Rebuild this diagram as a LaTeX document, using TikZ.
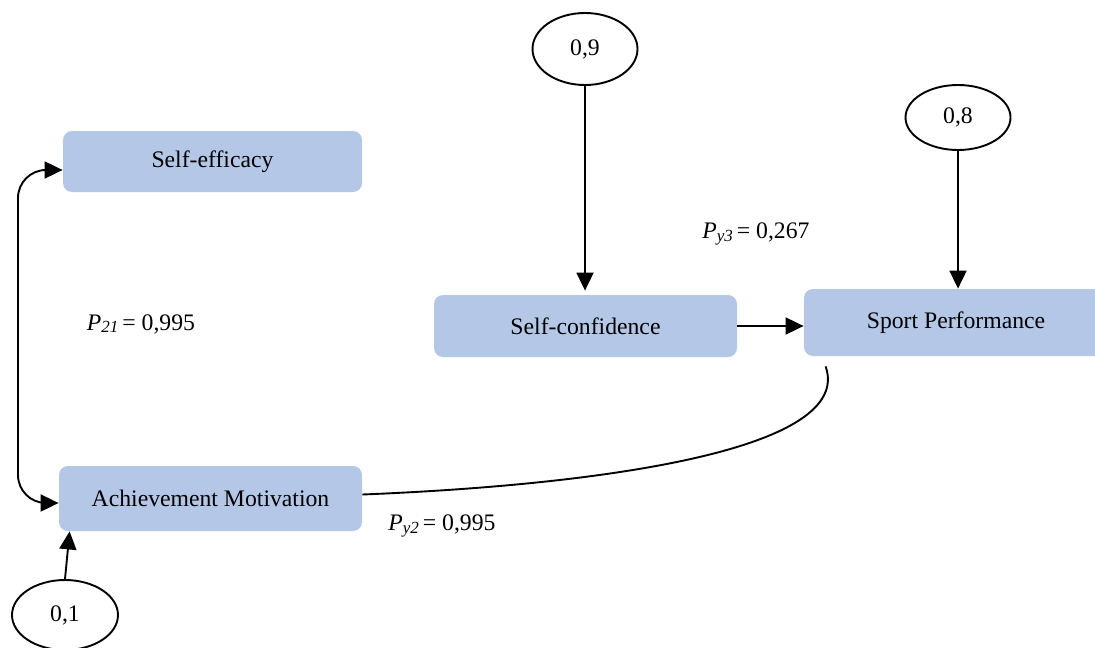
\documentclass[tikz,border=0pt]{standalone}
\usepackage{fontspec}
\setmainfont{Liberation Serif}
\usetikzlibrary{shapes.geometric,arrows.meta,calc}
\definecolor{boxblue}{HTML}{B4C7E7}
\newcommand{\pathsub}[1]{{\fontsize{8.5}{9}\selectfont\itshape\raisebox{-0.35ex}{#1}}}
\begin{document}
\begin{tikzpicture}[x=0.5pt,y=-0.5pt,
  every node/.style={font=\fontsize{11.85}{14}\selectfont},
  varbox/.style={fill=boxblue,draw=none,rounded corners=4.5pt,inner sep=0pt},
  errell/.style={ellipse,draw=black,line width=0.95pt,inner sep=0pt},
  conn/.style={line width=0.95pt,draw=black},
  arr/.style={conn,-{Triangle[length=9pt,width=8.5pt]}},
  darr/.style={conn,{Triangle[length=9pt,width=8.5pt]}-{Triangle[length=9pt,width=8.5pt]},rounded corners=14pt},
  lbl/.style={inner sep=0pt}
]
\useasboundingbox (0,0) rectangle (1095,647);

% variable boxes
\node[varbox,minimum width=149.5pt,minimum height=30.5pt] (SE) at (212.5,161.5) {Self-efficacy};
\node[varbox,minimum width=151.5pt,minimum height=32.5pt] (AM) at (210.5,498.5) {Achievement Motivation};
\node[varbox,minimum width=151.5pt,minimum height=31pt] (SC) at (585.5,326) {Self-confidence};
\node[varbox,minimum width=152pt,minimum height=33.5pt] (SP) at (956,322.5) {Sport Performance};

% error ellipses
\node[errell,minimum width=52.5pt,minimum height=36pt] (e9) at (585,49) {0,9};
\node[errell,minimum width=52.5pt,minimum height=32.5pt] (e8) at (958,117.5) {0,8};
\node[errell,minimum width=53pt,minimum height=35pt] (e1) at (65,615) {0,1};

% arrows
\draw[arr] (e9.south) -- ([yshift=2pt]e9.south |- SC.north);
\draw[arr] (e8.south) -- (e8.south |- SP.north);
\draw[arr] (SC.east) -- (SC.east -| SP.west);
\draw[arr] (e1.north) -- ([xshift=5.5pt]AM.south west);

% correlation double arrow
\coordinate (L) at (18,0);
\coordinate (sa) at ([yshift=-4.25pt]SE.west);
\coordinate (ab) at ([yshift=-2.25pt]AM.west);
\draw[darr] (sa) -| (L |- ab) -- (ab);

% curved path AM -> SP
\coordinate (spb) at ([xshift=11pt,yshift=-5pt]SP.south west);
\draw[conn] ([yshift=2pt]AM.east) .. controls (600,485) and (855,450) .. (spb);

% labels
\node[lbl] (l21) at (141,324) {\textit{P}\pathsub{21}\,= 0,995};
\node[lbl] (ly3) at (756,234) {\textit{P}\pathsub{y3}\,= 0,267};
\node[lbl] (ly2) at (442,526) {\textit{P}\pathsub{y2}\,= 0,995};
\end{tikzpicture}
\end{document}
